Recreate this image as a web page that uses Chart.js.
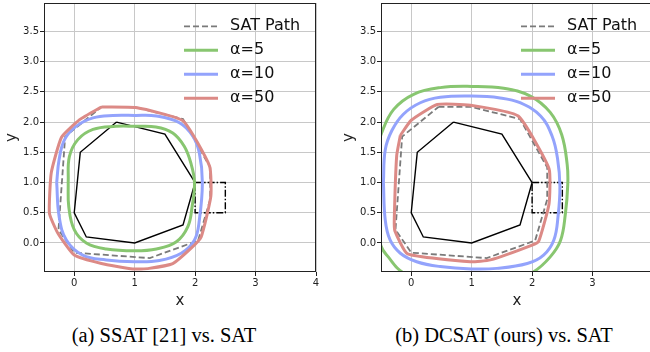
<!DOCTYPE html>
<html>
<head>
<meta charset="utf-8">
<script src="https://cdn.jsdelivr.net/npm/chart.js@4.4.1/dist/chart.umd.min.js"></script>
<style>
  html, body { margin: 0; padding: 0; background: #fff; }
  #page { position: relative; width: 650px; height: 352px; overflow: hidden; }
  canvas { position: absolute; top: 0; }
  .caption {
    position: absolute; top: 325px;
    font-family: "Liberation Serif", "Times New Roman", serif;
    font-size: 20.5px; line-height: 20.5px;
    white-space: nowrap; transform: translateX(-50%); color: #000;
  }
</style>
</head>
<body>
<div id="page">
  <canvas id="left" width="330" height="310" style="left:0"></canvas>
  <canvas id="right" width="330" height="310" style="left:337px"></canvas>
  <div class="caption" style="left:164px">(a) SSAT [21] vs. SAT</div>
  <div class="caption" style="left:504px">(b) DCSAT (ours) vs. SAT</div>
</div>
<script>
// axis ticks
const xTicks = [0, 1, 2, 3, 4];
const yTicks = [0, 0.5, 1, 1.5, 2, 2.5, 3, 3.5];

// obstacle polygon and goal box (same in both panels)
const obstacleX = [0.7, 1.5, 2, 1.8, 1, 0.2, 0, 0.1, 0.7];
const obstacleY = [2, 1.8, 1, 0.3, 0, 0.1, 0.5, 1.5, 2];
const boxX = [2, 2.5, 2.5, 2, 2];
const boxY = [1, 1, 0.5, 0.5, 1];

// SAT path (dashed)
const satX = [0.45, 1.0, 1.8, 2.25, 2.25, 2.05, 1.25, 0.0, -0.26, -0.15, 0.45];
const satY = [2.25, 2.25, 2.05, 1.25, 0.72, 0.04, -0.25, -0.16, 0.22, 1.76, 2.25];

// (a) SSAT
const ssat5X = [-0.1, -0.08, 0.06, 0.31, 0.69, 1.0, 1.35, 1.63, 1.82, 1.93, 1.99, 1.95, 1.88, 1.69, 1.36, 1.0, 0.53, 0.2, 0.0, -0.09, -0.1];
const ssat5Y = [1.0, 1.43, 1.71, 1.88, 1.93, 1.93, 1.92, 1.82, 1.6, 1.32, 1.0, 0.6, 0.27, 0.02, -0.1, -0.13, -0.1, 0.0, 0.22, 0.6, 1.0];
const ssat10X = [-0.29, -0.25, -0.13, 0.14, 0.53, 1.0, 1.41, 1.77, 1.99, 2.07, 2.12, 2.07, 1.96, 1.74, 1.36, 1.0, 0.64, 0.31, 0.03, -0.16, -0.25, -0.29];
const ssat10Y = [1.0, 0.44, 0.05, -0.2, -0.28, -0.31, -0.29, -0.17, 0.05, 0.38, 1.0, 1.49, 1.77, 1.99, 2.1, 2.11, 2.11, 2.07, 1.93, 1.71, 1.38, 1.0];
const ssat50X = [0.45, 1.02, 1.8, 2.24, 2.26, 2.1, 1.93, 1.63, 1.24, 0.97, 0.45, 0.0, -0.27, -0.41, -0.38, -0.21, 0.09, 0.45];
const ssat50Y = [2.25, 2.24, 2.02, 1.27, 0.77, 0.1, -0.09, -0.34, -0.42, -0.43, -0.34, -0.2, 0.16, 0.49, 1.16, 1.75, 2.04, 2.25];

// (b) DCSAT
const dcsat5X = [-0.6, -0.57, -0.49, -0.29, 0.04, 0.48, 1.0, 1.53, 1.97, 2.3, 2.49, 2.58, 2.59, 2.55, 2.47, 2.3, 2.02, 1.6, 1.0, 0.4, -0.15, -0.38, -0.5, -0.57, -0.6];
const dcsat5Y = [1.0, 1.5, 1.82, 2.21, 2.46, 2.57, 2.59, 2.56, 2.43, 2.16, 1.79, 1.3, 0.97, 0.48, 0.04, -0.23, -0.48, -0.66, -0.72, -0.68, -0.48, -0.23, -0.05, 0.4, 1.0];
const dcsat10X = [-0.46, -0.43, -0.32, -0.13, 0.15, 0.48, 1.0, 1.47, 1.8, 2.14, 2.33, 2.42, 2.46, 2.43, 2.36, 2.19, 1.92, 1.42, 1.0, 0.48, 0.09, -0.18, -0.35, -0.43, -0.46];
const dcsat10Y = [1.0, 1.54, 1.86, 2.13, 2.32, 2.41, 2.43, 2.4, 2.32, 2.1, 1.77, 1.4, 0.94, 0.45, 0.05, -0.2, -0.34, -0.42, -0.43, -0.39, -0.31, -0.17, 0.05, 0.38, 1.0];
const dcsat50X = [-0.18, 0.0, 0.43, 0.98, 1.77, 2.28, 2.28, 2.11, 1.99, 1.31, 0.98, -0.06, -0.27, -0.28, -0.24, -0.18];
const dcsat50Y = [1.78, 2.03, 2.29, 2.28, 2.1, 1.23, 0.65, 0.03, -0.04, -0.28, -0.31, -0.18, 0.2, 0.4, 1.45, 1.78];

const FONT = 'DejaVu Sans';
const green = '#88c670';
const blue = '#93a3fc';
const red = '#dc8a86';

const toPoints = (xs, ys) => xs.map((x, i) => ({ x: x, y: ys[i] }));

const curve = (label, xs, ys, color, order, tension) => ({
    label: label,
    data: toPoints(xs, ys),
    borderColor: color,
    borderWidth: 3,
    tension: tension,
    order: order,
    clip: 0
});

const buildDatasets = (c5, c10, c50) => [
    { label: '', data: toPoints(obstacleX, obstacleY), borderColor: '#000', borderWidth: 1.4, tension: 0, order: 6, clip: 0 },
    { label: '', data: toPoints(boxX, boxY), borderColor: '#000', borderWidth: 1.4, borderDash: [7, 2, 1.5, 2], tension: 0, order: 5, clip: 0 },
    { label: 'SAT Path', data: toPoints(satX, satY), borderColor: '#7a7a7a', borderWidth: 1.8, borderDash: [6, 3], tension: 0, order: 4, clip: 0 },
    curve('\u03b1=5', c5[0], c5[1], green, 3, 0.4),
    curve('\u03b1=10', c10[0], c10[1], blue, 2, 0.4),
    curve('\u03b1=50', c50[0], c50[1], red, 1, 0.15)
];

// box round the plot, like matplotlib spines
const framePlugin = {
    id: 'frame',
    afterDraw(chart) {
        const { ctx, chartArea: a } = chart;
        ctx.save();
        ctx.strokeStyle = '#222';
        ctx.lineWidth = 1;
        ctx.strokeRect(a.left + 0.5, a.top + 0.5, a.right - a.left - 1, a.bottom - a.top - 1);
        ctx.restore();
    }
};

// legend drawn inside the plot, no frame
const innerLegend = {
    id: 'innerLegend',
    afterDatasetsDraw(chart) {
        const { ctx, chartArea: a } = chart;
        ctx.save();
        ctx.font = '16px "' + FONT + '"';
        ctx.textBaseline = 'middle';
        ctx.fillStyle = '#111';
        let y = a.top + 23.3;
        chart.data.datasets.filter(d => d.label).forEach(d => {
            ctx.strokeStyle = d.borderColor;
            ctx.lineWidth = d.borderWidth;
            ctx.setLineDash(d.borderDash || []);
            ctx.beginPath();
            ctx.moveTo(a.left + 140, y);
            ctx.lineTo(a.left + 174, y);
            ctx.stroke();
            ctx.setLineDash([]);
            ctx.fillText(d.label, a.left + 186, y);
            y += 24;
        });
        ctx.restore();
    }
};

const tickFont = { family: FONT, size: 10 };
const titleFont = { family: FONT, size: 15 };

const buildOptions = () => ({
    responsive: false,
    animation: false,
    devicePixelRatio: 1,
    layout: { padding: { left: 0, top: 3, right: 14, bottom: 0 } },
    elements: { point: { radius: 0, hoverRadius: 0 }, line: { capBezierPoints: false, fill: false } },
    plugins: { legend: { display: false }, tooltip: { enabled: false } },
    scales: {
        x: {
            type: 'linear',
            min: -0.5,
            max: 4,
            afterBuildTicks: s => { s.ticks = xTicks.map(v => ({ value: v })); },
            afterFit: s => { s.height = 38; s.paddingLeft = 0; s.paddingRight = 0; },
            ticks: { font: tickFont, color: '#222', padding: 1, maxRotation: 0, autoSkip: false, callback: v => String(v) },
            grid: { color: '#c8c8c8', lineWidth: 1, tickColor: '#222', tickLength: 4 },
            border: { display: false },
            title: { display: true, text: 'x', font: titleFont, color: '#222', padding: { top: 0, bottom: 0 } }
        },
        y: {
            type: 'linear',
            min: -0.48,
            max: 3.97,
            afterBuildTicks: s => { s.ticks = yTicks.map(v => ({ value: v })); },
            afterFit: s => { s.width = 44; s.paddingTop = 0; s.paddingBottom = 0; },
            ticks: { font: tickFont, color: '#222', padding: 1, autoSkip: false, callback: v => v.toFixed(1) },
            grid: { color: '#c8c8c8', lineWidth: 1, tickColor: '#222', tickLength: 4 },
            border: { display: false },
            title: { display: true, text: 'y', font: titleFont, color: '#222', padding: { top: 3, bottom: 0 } }
        }
    }
});

const createPanel = (id, datasets) => new Chart(document.getElementById(id), {
    type: 'scatter',
    data: { datasets: datasets.map(d => Object.assign({ showLine: true, pointRadius: 0, fill: false }, d)) },
    options: buildOptions(),
    plugins: [framePlugin, innerLegend]
});

createPanel('left', buildDatasets([ssat5X, ssat5Y], [ssat10X, ssat10Y], [ssat50X, ssat50Y]));
createPanel('right', buildDatasets([dcsat5X, dcsat5Y], [dcsat10X, dcsat10Y], [dcsat50X, dcsat50Y]));
</script>
</body>
</html>
